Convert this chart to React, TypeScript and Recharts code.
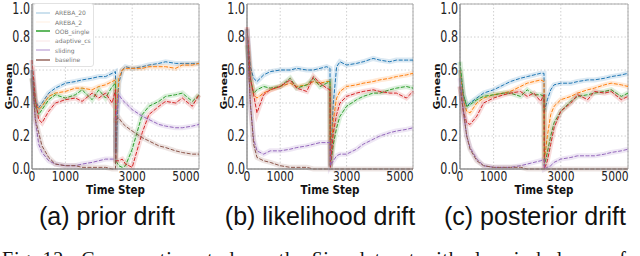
import React from 'react';
import { CartesianGrid, Line, LineChart, ReferenceArea, XAxis, YAxis } from 'recharts';

const STEPS = [0, 100, 200, 300, 500, 700, 1000, 1300, 1500, 1800, 2000, 2200, 2400, 2500, 2510, 2600, 2700, 2800, 3000, 3300, 3500, 3800, 4000, 4300, 4500, 4800, 5000];
const X_TICKS = [0, 1000, 2000, 3000, 4000, 5000];
const Y_TICKS = [0, 0.2, 0.4, 0.6, 0.8, 1.0];

// (a) prior drift
const PRIOR_AREBA20 = [0.60, 0.42, 0.37, 0.40, 0.46, 0.49, 0.52, 0.53, 0.54, 0.55, 0.56, 0.56, 0.58, 0.59, 0.10, 0.52, 0.60, 0.62, 0.61, 0.62, 0.63, 0.64, 0.65, 0.64, 0.64, 0.64, 0.64];
const PRIOR_AREBA2 = [0.55, 0.40, 0.36, 0.38, 0.44, 0.46, 0.47, 0.49, 0.49, 0.48, 0.50, 0.51, 0.53, 0.54, 0.28, 0.55, 0.60, 0.61, 0.61, 0.61, 0.62, 0.62, 0.62, 0.61, 0.63, 0.63, 0.64];
const PRIOR_OOB = [0.55, 0.38, 0.33, 0.36, 0.42, 0.45, 0.43, 0.45, 0.48, 0.42, 0.48, 0.43, 0.50, 0.52, 0.05, 0.02, 0.01, 0.02, 0.12, 0.33, 0.38, 0.41, 0.44, 0.45, 0.46, 0.41, 0.45];
const PRIOR_ACS = [0.66, 0.42, 0.30, 0.28, 0.35, 0.40, 0.42, 0.43, 0.41, 0.46, 0.43, 0.46, 0.40, 0.48, 0.05, 0.05, 0.06, 0.03, 0.01, 0.22, 0.33, 0.38, 0.41, 0.40, 0.43, 0.38, 0.45];
const PRIOR_SLIDING = [0.55, 0.30, 0.15, 0.10, 0.05, 0.03, 0.02, 0.02, 0.03, 0.04, 0.05, 0.06, 0.06, 0.06, 0.30, 0.45, 0.42, 0.40, 0.36, 0.32, 0.30, 0.27, 0.26, 0.25, 0.25, 0.26, 0.27];
const PRIOR_BASE = [0.60, 0.30, 0.22, 0.14, 0.07, 0.03, 0.02, 0.02, 0.01, 0.01, 0.01, 0.01, 0.00, 0.00, 0.30, 0.31, 0.28, 0.26, 0.23, 0.19, 0.17, 0.14, 0.13, 0.11, 0.10, 0.09, 0.09];

// (b) likelihood drift
const LIKE_AREBA20 = [0.85, 0.62, 0.55, 0.53, 0.57, 0.59, 0.60, 0.60, 0.61, 0.60, 0.60, 0.61, 0.62, 0.61, 0.02, 0.40, 0.62, 0.65, 0.63, 0.64, 0.65, 0.67, 0.66, 0.65, 0.66, 0.66, 0.66];
const LIKE_AREBA2 = [0.80, 0.55, 0.45, 0.43, 0.46, 0.48, 0.50, 0.52, 0.50, 0.51, 0.53, 0.52, 0.53, 0.53, 0.02, 0.30, 0.43, 0.47, 0.50, 0.51, 0.52, 0.53, 0.54, 0.55, 0.56, 0.57, 0.58];
const LIKE_OOB = [0.75, 0.55, 0.46, 0.48, 0.50, 0.49, 0.50, 0.55, 0.49, 0.51, 0.55, 0.50, 0.52, 0.53, 0.01, 0.15, 0.25, 0.32, 0.38, 0.42, 0.44, 0.46, 0.46, 0.48, 0.49, 0.50, 0.49];
const LIKE_ACS = [0.86, 0.55, 0.45, 0.34, 0.45, 0.48, 0.50, 0.54, 0.49, 0.47, 0.56, 0.52, 0.49, 0.48, 0.01, 0.22, 0.33, 0.40, 0.44, 0.46, 0.47, 0.48, 0.47, 0.46, 0.46, 0.43, 0.47];
const LIKE_SLIDING = [0.80, 0.40, 0.18, 0.11, 0.09, 0.11, 0.11, 0.12, 0.13, 0.14, 0.15, 0.16, 0.16, 0.16, 0.02, 0.05, 0.08, 0.09, 0.09, 0.12, 0.15, 0.18, 0.20, 0.22, 0.23, 0.24, 0.25];
const LIKE_BASE = [0.85, 0.40, 0.15, 0.07, 0.05, 0.04, 0.02, 0.01, 0.01, 0.01, 0.00, 0.00, 0.00, 0.00, 0.00, 0.00, 0.00, 0.00, 0.00, 0.00, 0.00, 0.00, 0.00, 0.00, 0.00, 0.00, 0.00];

// (c) posterior drift
const POST_AREBA20 = [0.60, 0.45, 0.38, 0.40, 0.43, 0.46, 0.48, 0.51, 0.53, 0.55, 0.56, 0.57, 0.58, 0.58, 0.35, 0.42, 0.48, 0.51, 0.52, 0.52, 0.53, 0.54, 0.54, 0.55, 0.56, 0.57, 0.58];
const POST_AREBA2 = [0.60, 0.42, 0.35, 0.34, 0.40, 0.43, 0.45, 0.46, 0.47, 0.50, 0.52, 0.53, 0.54, 0.53, 0.05, 0.20, 0.33, 0.38, 0.42, 0.44, 0.46, 0.48, 0.49, 0.51, 0.52, 0.51, 0.50];
const POST_OOB = [0.65, 0.45, 0.38, 0.39, 0.42, 0.44, 0.45, 0.46, 0.46, 0.44, 0.48, 0.45, 0.45, 0.44, 0.02, 0.10, 0.20, 0.28, 0.35, 0.41, 0.44, 0.45, 0.46, 0.47, 0.48, 0.44, 0.46];
const POST_ACS = [0.50, 0.35, 0.28, 0.27, 0.32, 0.40, 0.43, 0.45, 0.46, 0.47, 0.44, 0.46, 0.41, 0.45, 0.00, 0.05, 0.15, 0.25, 0.35, 0.40, 0.45, 0.42, 0.47, 0.46, 0.47, 0.42, 0.44];
const POST_SLIDING = [0.55, 0.35, 0.20, 0.13, 0.06, 0.02, 0.01, 0.01, 0.01, 0.02, 0.03, 0.04, 0.05, 0.06, 0.00, 0.01, 0.02, 0.04, 0.06, 0.07, 0.08, 0.08, 0.08, 0.09, 0.10, 0.11, 0.12];
const POST_BASE = [0.50, 0.35, 0.20, 0.12, 0.05, 0.02, 0.01, 0.01, 0.01, 0.01, 0.00, 0.00, 0.00, 0.00, 0.00, 0.00, 0.00, 0.00, 0.00, 0.00, 0.00, 0.00, 0.00, 0.00, 0.00, 0.00, 0.00];

const SERIES = [
  { key: 'areba20', name: 'AREBA_20', color: '#1f77b4', legendOpacity: 0.3 },
  { key: 'areba2', name: 'AREBA_2', color: '#ff7f0e', legendOpacity: 0.08 },
  { key: 'oob', name: 'OOB_single', color: '#2ca02c', legendOpacity: 1 },
  { key: 'acs', name: 'adaptive_cs', color: '#d62728', legendOpacity: 0.08 },
  { key: 'sliding', name: 'sliding', color: '#9467bd', legendOpacity: 0.5 },
  { key: 'baseline', name: 'baseline', color: '#8c564b', legendOpacity: 0.9 },
];

const toRows = (cols: Record<string, number[]>) =>
  STEPS.map((step, i) => {
    const row: Record<string, number> = { step };
    Object.keys(cols).forEach((k) => (row[k] = cols[k][i]));
    return row;
  });

// plot area: left edge = panel left + 32, top 4, bottom 169
const PANELS = [
  {
    left: 0, width: 202, caption: '(a) prior drift', captionX: 107,
    rows: toRows({ areba20: PRIOR_AREBA20, areba2: PRIOR_AREBA2, oob: PRIOR_OOB, acs: PRIOR_ACS, sliding: PRIOR_SLIDING, baseline: PRIOR_BASE }),
  },
  {
    left: 215, width: 201, caption: '(b) likelihood drift', captionX: 320,
    rows: toRows({ areba20: LIKE_AREBA20, areba2: LIKE_AREBA2, oob: LIKE_OOB, acs: LIKE_ACS, sliding: LIKE_SLIDING, baseline: LIKE_BASE }),
  },
  {
    left: 428, width: 203, caption: '(c) posterior drift', captionX: 535,
    rows: toRows({ areba20: POST_AREBA20, areba2: POST_AREBA2, oob: POST_OOB, acs: POST_ACS, sliding: POST_SLIDING, baseline: POST_BASE }),
  },
];

const FONT = 'DejaVu Sans';
const SQUEEZE = 0.74; // the source figure is squeezed horizontally

const XTick = (props: any) => {
  const { x, y, payload } = props;
  return (
    <text transform={`translate(${x},${y}) scale(${SQUEEZE},1)`} textAnchor="middle" dy="0.71em" fontSize={14.5} fill="#222" fontFamily={FONT}>
      {String(payload.value)}
    </text>
  );
};

const YTick = (props: any) => {
  const { x, y, payload } = props;
  return (
    <text transform={`translate(${x},${y}) scale(${SQUEEZE},1)`} textAnchor="end" dy="0.36em" fontSize={15} fill="#222" fontFamily={FONT}>
      {Number(payload.value).toFixed(1)}
    </text>
  );
};

const LegendBox = () => (
  <div style={{ position: 'absolute', left: 33, top: 3, background: '#fff', border: '1px solid #e2e2e2', borderRadius: 3, width: 57, padding: '4px 0 2px 2px' }}>
    {SERIES.map((s) => (
      <div key={s.key} style={{ display: 'flex', alignItems: 'center', height: 9.4 }}>
        <svg width={14} height={4} style={{ marginRight: 5, flex: 'none' }}>
          <line x1={0} y1={2} x2={14} y2={2} stroke={s.color} strokeOpacity={s.legendOpacity} strokeWidth={1.5} />
        </svg>
        <span style={{ fontFamily: FONT, fontSize: 6, color: '#777', whiteSpace: 'nowrap', lineHeight: '9px' }}>{s.name}</span>
      </div>
    ))}
  </div>
);

const Panel = ({ p }: { p: (typeof PANELS)[number] }) => (
  <div style={{ position: 'absolute', left: p.left, top: 0 }}>
    <LineChart width={p.width} height={199} data={p.rows} margin={{ top: 4, right: 3, bottom: 0, left: 0 }}>
      <CartesianGrid stroke="#d0d0d0" strokeDasharray="1.5 2" />
      <XAxis
        dataKey="step"
        type="number"
        domain={[0, 5000]}
        ticks={X_TICKS}
        tick={<XTick />}
        tickSize={0}
        tickMargin={2}
        height={30}
        axisLine={{ stroke: '#888' }}
      />
      <YAxis
        type="number"
        domain={[0, 1]}
        ticks={Y_TICKS}
        tick={<YTick />}
        tickSize={0}
        tickMargin={2}
        width={32}
        axisLine={{ stroke: '#888' }}
      />
      <ReferenceArea x1={0} x2={5000} y1={0} y2={1} fill="none" stroke="#aaa" strokeWidth={1} />
      {SERIES.map((s) => [
        <Line key={s.key + '-band'} dataKey={s.key} stroke={s.color} strokeOpacity={0.16} strokeWidth={5} dot={false} isAnimationActive={false} legendType="none" />,
        <Line key={s.key} dataKey={s.key} name={s.name} stroke={s.color} strokeWidth={1} strokeDasharray="4 1.5" dot={false} isAnimationActive={false} />,
      ])}
    </LineChart>
  </div>
);

export default function App() {
  return (
    <div style={{ position: 'absolute', left: 0, top: 0, width: 640, height: 256, overflow: 'hidden', background: '#fff' }}>
      {PANELS.map((p) => (
        <Panel key={p.caption} p={p} />
      ))}
      <LegendBox />
      <svg width={640} height={256} style={{ position: 'absolute', left: 0, top: 0, pointerEvents: 'none' }}>
        {PANELS.map((p) => (
          <g key={p.caption}>
            <text
              transform={`translate(${p.left + 9},86.5) scale(${SQUEEZE},1) rotate(-90)`}
              textAnchor="middle"
              dy="0.36em"
              fontSize={12}
              fontWeight="bold"
              fill="#111"
              fontFamily={FONT}
              textLength={46}
              lengthAdjust="spacingAndGlyphs"
            >
              G-mean
            </text>
            <text
              x={p.left + 32 + (p.width - 35) / 2}
              y={194}
              textAnchor="middle"
              fontSize={12}
              fontWeight="bold"
              fill="#111"
              fontFamily={FONT}
              textLength={59}
              lengthAdjust="spacingAndGlyphs"
            >
              Time Step
            </text>
            <text x={p.captionX} y={225} textAnchor="middle" fontSize={25} fill="#111" fontFamily="Liberation Sans">
              {p.caption}
            </text>
          </g>
        ))}
        <text x={2} y={266} fontSize={20} fill="#111" fontFamily="Liberation Serif" textLength={624} lengthAdjust="spacing">
          Fig. 12.{'\u00a0 '}Comparative study on the <tspan fontStyle="italic">Sine</tspan> dataset with class imbalance of
        </text>
      </svg>
    </div>
  );
}
